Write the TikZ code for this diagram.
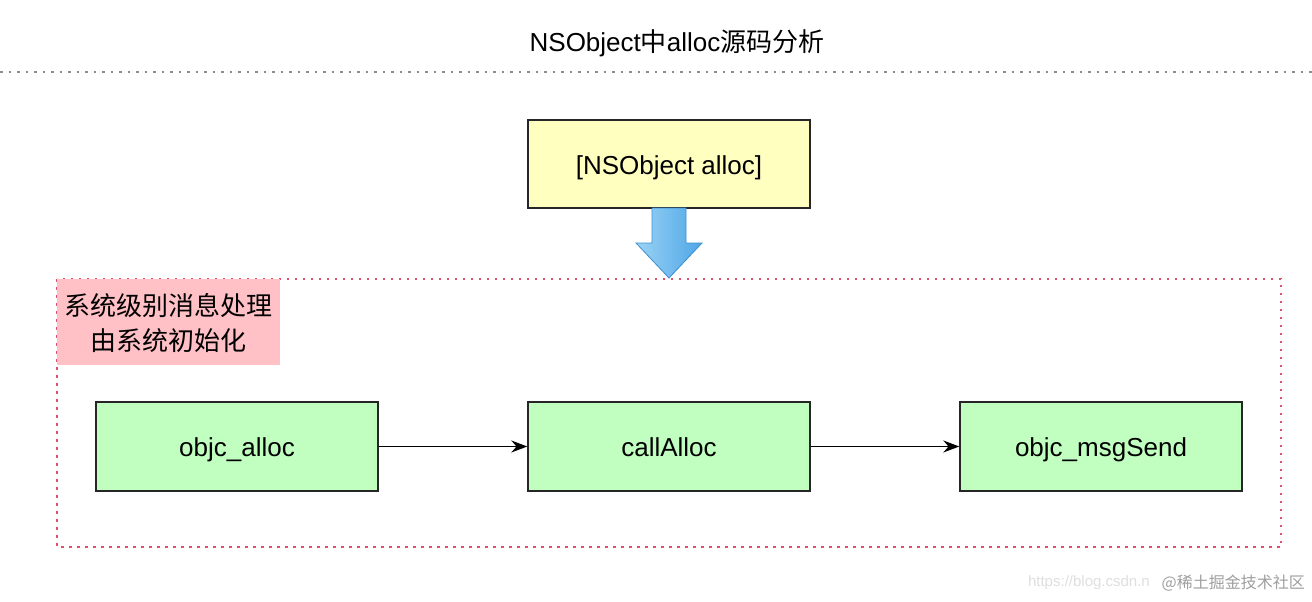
\documentclass[tikz,border=0pt]{standalone}
\usepackage{fontspec}
\setmainfont{Liberation Sans}
\newfontfamily\cjk{Noto Sans CJK SC}
\usetikzlibrary{arrows.meta,shapes.arrows}
\definecolor{boxyellow}{HTML}{FFFFC0}
\definecolor{boxgreen}{HTML}{C0FFC0}
\definecolor{labelpink}{HTML}{FFC0C6}
\definecolor{containerred}{HTML}{E0506A}
\definecolor{arrowblueL}{HTML}{9AD3F5}
\definecolor{arrowblueD}{HTML}{4EA6E6}
\definecolor{arrowedge}{HTML}{3D8FCF}
\begin{document}
\begin{tikzpicture}[x=1pt,y=-1pt,
  boxtext/.style={font=\fontsize{26}{30}\selectfont,text height=21pt,text depth=1pt},
  stepbox/.style={draw=black!85,line width=1.4pt,fill=boxgreen,minimum width=282pt,minimum height=89pt,inner sep=0pt,boxtext},
  topbox/.style={draw=black!85,line width=1.4pt,fill=boxyellow,minimum width=282pt,minimum height=88pt,inner sep=0pt,boxtext},
  flow/.style={-{Stealth[length=16pt,width=12pt]},line width=1.6pt,black},
  sep/.style={gray!90,line width=1.4pt,dash pattern=on 2.5pt off 6pt},
  frame/.style={containerred,line width=1.3pt,dash pattern=on 2.5pt off 5.5pt}
]
\useasboundingbox (0,0) rectangle (1312,602);
\fill[white] (0,0) rectangle (1312,602);

\node[font=\fontsize{26}{30}\selectfont] (title) at (677,43) {NSObject{\cjk 中}alloc{\cjk 源码分析}};
\coordinate (sepL) at (0,72);
\coordinate (sepR) at (1312,72);
\draw[sep] (sepL) -- (sepR);

\node[topbox] (nsalloc) at (669,164) {[NSObject alloc]};

% container
\coordinate (frameTL) at (57,279);
\coordinate (frameBR) at (1281,547);
\draw[frame] (frameTL) rectangle (frameBR);

% label box
\fill[labelpink] (57,279) rectangle (280,365);
\node[font=\cjk\fontsize{26}{30}\selectfont,align=center,inner sep=0pt] (label) at (168.5,323) {系统级别消息处理\\[5pt]由系统初始化};

% blue arrow
\coordinate (arrowTip) at (669,278);
\shade[left color=arrowblueL,right color=arrowblueD,draw=arrowedge,line width=0.8pt]
  (652,208) -- (686,208) -- (686,243) -- (702,243) -- (arrowTip) -- (636,243) -- (652,243) -- cycle;

\node[stepbox] (objcalloc) at (237,446.5) {objc\_alloc};
\node[stepbox] (callalloc) at (669,446.5) {callAlloc};
\node[stepbox] (msgsend) at (1101,446.5) {objc\_msgSend};

\draw[flow] (objcalloc) -- (callalloc);
\draw[flow] (callalloc) -- (msgsend);

% watermark
\node[anchor=east,inner sep=0pt,font=\fontsize{15}{18}\selectfont,text=gray!25] (wm1) at (1150,583) {https://blog.csdn.n};
\node[anchor=east,inner sep=0pt,font=\cjk\fontsize{16}{19}\selectfont,text=gray!75] (wm2) at (1305,583) {@稀土掘金技术社区};
\end{tikzpicture}
\end{document}
